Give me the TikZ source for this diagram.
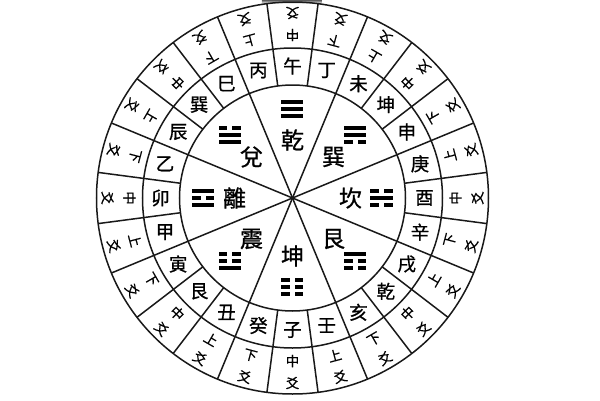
\documentclass[tikz,border=0pt]{standalone}
\usepackage{fontspec}
\newfontfamily\cjk[FakeBold=0.9]{Noto Sans CJK TC}
\newfontfamily\cjkl[FakeBold=0.6]{Noto Sans CJK TC}
\tikzset{
  ring/.style={draw=black!90, line width=1.5pt},
  stemtxt/.style={font=\cjk\fontsize{18.5}{18.5}\selectfont, inner sep=0pt},
  yaotxt/.style={font=\cjkl\fontsize{13.5}{13.5}\selectfont, inner sep=0pt},
  guatxt/.style={font=\cjk\fontsize{23}{23}\selectfont, inner sep=0pt},
  pics/trigram/.style n args={3}{code={
    \foreach \bb/\yy in {#1/7, #2/0, #3/-7}{
      \ifnum\bb=1
        \fill[black] (-11,\yy-2) rectangle (11,\yy+2);
      \else
        \fill[black] (-11,\yy-2) rectangle (-2.3,\yy+2);
        \fill[black] (2.3,\yy-2) rectangle (11,\yy+2);
      \fi
    }
  }}
}
\begin{document}
\begin{tikzpicture}[x=1pt,y=1pt]
\useasboundingbox[fill=white] (-292.5,-202) rectangle (307.5,198);
% faint artifact at top edge
\shade[top color=black!65, bottom color=white] (-30.5,198) rectangle (29.5,194.5);
% circles
\draw[ring] (0,0) circle (196);
\draw[ring] (0,0) circle (150);
\draw[ring] (0,0) circle (113);
% inner 8 radial lines
\foreach \a in {22.5,67.5,...,337.5} \draw[ring] (0,0) -- (\a:113);
% outer 24 radial lines
\foreach \a in {7.5,22.5,...,352.5} \draw[ring] (\a:113) -- (\a:196);
% 24 mountains, starting at 90 deg, increasing angle
\foreach \s/\y [count=\i from 0] in {午/中,丙/上,巳/下,巽/中,辰/上,乙/下,卯/中,甲/上,寅/下,艮/中,丑/上,癸/下,子/中,壬/上,亥/下,乾/中,戌/上,辛/下,酉/中,庚/上,申/下,坤/中,未/上,丁/下}{
  \pgfmathsetmacro\ang{90+15*\i}
  \node[stemtxt] (s\i) at (\ang:132) {\s};
  \node[yaotxt, rotate=\ang+90] (p\i) at (\ang:163) {\y};
  \node[yaotxt, rotate=\ang+90] (q\i) at (\ang:185) {爻};
}
% eight trigrams
\foreach \n/\a/\b/\c [count=\k from 0] in {乾/1/1/1,兌/0/1/1,離/1/0/1,震/0/0/1,坤/0/0/0,艮/1/0/0,坎/0/1/0,巽/1/1/0}{
  \pgfmathsetmacro\ang{90+45*\k}
  \node[guatxt] (g\k) at (\ang:58) {\n};
  \pic at (\ang:89) {trigram={\a}{\b}{\c}};
}
\end{tikzpicture}
\end{document}
